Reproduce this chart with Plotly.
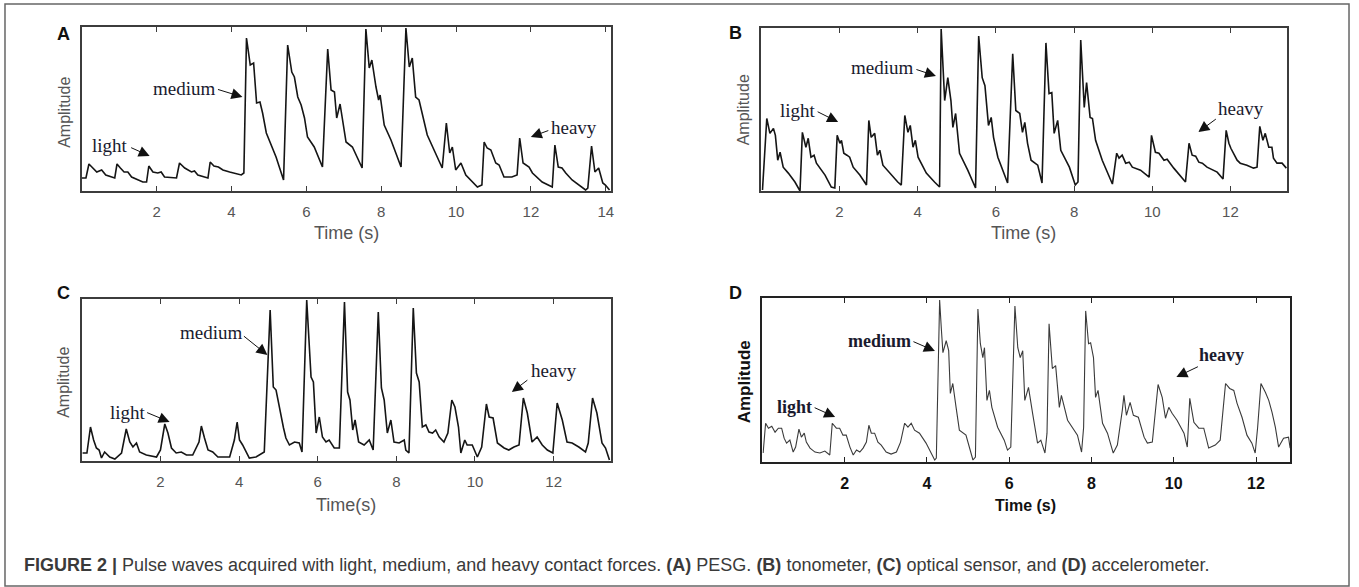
import plotly.graph_objects as go

W, H = 1359, 587

# ---------------- data (time in s, amplitude in arbitrary units) ----------------
tA = [0.00,0.11,0.19,0.32,0.40,0.53,0.64,0.88,0.94,1.03,
      1.13,1.23,1.33,1.63,1.73,1.79,1.90,2.03,2.12,2.21,
      2.53,2.61,2.75,2.93,3.01,3.10,3.37,3.43,3.53,3.65,
      3.77,3.95,4.26,4.33,4.40,4.50,4.59,4.67,4.76,4.83,
      4.93,5.19,5.39,5.50,5.61,5.68,5.77,5.86,5.95,6.03,
      6.21,6.43,6.57,6.66,6.75,6.81,6.90,7.06,7.23,7.49,
      7.59,7.68,7.75,7.86,7.93,7.97,8.08,8.26,8.53,8.66,
      8.75,8.83,8.92,9.01,9.23,9.63,9.74,9.83,9.90,9.99,
      10.13,10.26,10.57,10.69,10.75,10.83,10.93,11.06,11.15,11.28,
      11.49,11.63,11.70,11.79,11.95,12.04,12.30,12.57,12.64,12.73,
      12.83,12.93,13.10,13.46,13.52,13.62,13.71,13.81,13.92,13.99,
      14.10]
aA = [13,13,27,22,19,21,16,13,27,23,
      19,19,14,9,9,25,19,18,19,14,
      13,28,23,19,20,16,13,29,25,24,
      21,19,16,18,153,126,128,88,89,78,
      58,34,11,146,119,114,94,86,73,54,
      44,24,142,101,99,73,87,49,44,23,
      162,123,131,104,91,96,66,51,24,163,
      124,133,94,91,56,23,68,38,44,21,
      28,16,4,6,49,43,41,28,26,14,
      14,16,53,28,24,18,9,4,46,24,
      23,18,11,1,3,45,19,23,8,6,
      1]

tB = [0.03,0.14,0.22,0.31,0.36,0.42,0.48,0.56,0.69,0.86,
      0.99,1.05,1.14,1.20,1.27,1.35,1.41,1.63,1.79,1.88,
      1.94,2.01,2.05,2.11,2.19,2.26,2.35,2.52,2.69,2.75,
      2.81,2.90,2.97,3.03,3.11,3.28,3.49,3.58,3.67,3.75,
      3.81,3.88,3.94,4.01,4.22,4.43,4.56,4.60,4.69,4.77,
      4.85,4.90,4.97,5.07,5.28,5.48,5.56,5.65,5.72,5.81,
      5.88,5.94,6.05,6.30,6.43,6.51,6.61,6.68,6.74,6.81,
      6.90,7.07,7.18,7.28,7.36,7.43,7.49,7.58,7.66,7.88,
      8.03,8.10,8.17,8.26,8.32,8.41,8.47,8.55,8.72,8.98,
      9.09,9.15,9.23,9.32,9.41,9.49,9.70,9.92,9.98,10.08,
      10.17,10.30,10.38,10.55,10.85,10.94,11.02,11.11,11.19,11.28,
      11.40,11.66,11.81,11.89,11.96,12.01,12.08,12.17,12.25,12.42,
      12.59,12.68,12.75,12.83,12.89,12.98,13.06,13.10,13.19,13.32,
      13.43]
aB = [1,73,58,63,56,31,39,24,18,9,
      0,59,44,53,34,36,28,16,4,3,
      56,48,51,38,36,34,24,16,6,71,
      54,58,36,41,26,18,9,6,76,59,
      66,44,51,34,18,9,4,163,91,114,
      91,64,78,38,21,3,156,114,106,66,
      74,54,34,8,138,81,78,59,69,48,
      31,26,8,149,98,99,58,71,41,24,
      6,9,152,84,109,74,73,51,31,7,
      38,33,36,28,29,24,21,14,56,39,
      38,31,32,23,9,48,36,35,29,28,
      24,19,12,61,48,43,38,31,28,26,
      23,24,65,51,58,44,44,33,28,28,
      23]

tC = [0.02,0.13,0.22,0.30,0.37,0.44,0.50,0.58,0.71,0.84,
      1.01,1.13,1.22,1.30,1.39,1.47,1.64,1.90,2.00,2.11,
      2.19,2.28,2.40,2.53,2.66,2.82,2.98,3.04,3.12,3.21,
      3.33,3.46,3.76,3.88,3.95,4.01,4.09,4.18,4.26,4.43,
      4.64,4.79,4.87,4.94,5.03,5.13,5.19,5.28,5.41,5.53,
      5.60,5.72,5.83,5.89,5.96,6.04,6.12,6.21,6.29,6.42,
      6.55,6.68,6.76,6.82,6.89,6.95,7.04,7.18,7.31,7.41,
      7.54,7.62,7.69,7.77,7.86,7.94,8.07,8.20,8.24,8.32,
      8.43,8.51,8.58,8.66,8.75,8.83,8.92,9.00,9.09,9.21,
      9.31,9.41,9.49,9.58,9.64,9.74,9.80,9.93,10.06,10.17,
      10.29,10.36,10.46,10.57,10.74,10.86,10.99,11.12,11.23,11.33,
      11.45,11.58,11.71,11.84,11.98,12.09,12.22,12.34,12.47,12.64,
      12.81,12.88,12.99,13.10,13.23,13.32,13.42]
aC = [8,8,34,21,13,11,3,9,4,2,
      8,32,19,14,18,9,6,4,11,37,
      28,13,8,9,6,6,19,35,23,11,
      9,4,4,21,39,21,16,9,3,4,
      9,151,74,71,51,33,23,16,19,18,
      9,161,84,79,28,44,24,19,21,13,
      13,159,69,61,31,41,19,16,21,11,
      149,73,61,28,41,19,18,21,11,8,
      153,88,79,34,36,29,28,31,24,19,
      28,61,54,34,8,21,16,16,4,14,
      57,44,43,18,13,11,14,16,63,48,
      19,24,16,11,8,58,41,19,18,14,
      9,18,63,48,18,13,1]

tD = [0.02,0.08,0.15,0.23,0.31,0.39,0.47,0.53,0.59,0.67,
      0.75,0.81,0.89,0.95,1.02,1.07,1.16,1.28,1.40,1.52,
      1.64,1.70,1.80,1.88,1.96,2.04,2.13,2.21,2.29,2.37,
      2.45,2.53,2.59,2.65,2.73,2.81,2.89,3.01,3.13,3.26,
      3.36,3.46,3.54,3.62,3.70,3.82,3.98,4.10,4.19,4.23,
      4.31,4.35,4.39,4.47,4.53,4.57,4.63,4.71,4.79,4.95,
      5.12,5.18,5.24,5.30,5.36,5.40,5.46,5.52,5.58,5.72,
      5.88,5.96,6.04,6.14,6.21,6.27,6.33,6.38,6.47,6.57,
      6.69,6.77,6.87,6.92,6.97,7.05,7.13,7.22,7.27,7.42,
      7.66,7.76,7.81,7.86,7.93,7.98,8.05,8.10,8.16,8.27,
      8.39,8.53,8.63,8.75,8.79,8.85,8.94,9.02,9.14,9.28,
      9.36,9.48,9.56,9.62,9.72,9.80,9.88,9.96,10.08,10.25,
      10.33,10.39,10.49,10.61,10.73,10.85,11.01,11.13,11.26,11.36,
      11.46,11.54,11.66,11.78,11.90,11.98,12.04,12.12,12.23,12.31,
      12.39,12.47,12.55,12.67,12.79,12.83]
aD = [9,39,34,36,30,34,34,24,19,22,
      10,15,33,25,29,20,14,10,9,11,
      7,39,34,34,27,27,15,7,12,10,
      14,20,37,29,29,20,17,10,8,10,
      20,39,35,39,32,29,19,10,2,4,
      163,135,110,122,112,69,79,55,32,27,
      2,5,154,119,105,115,62,72,55,35,
      22,12,15,157,115,105,112,62,75,49,
      19,22,9,29,139,94,97,55,67,42,
      27,10,35,152,119,120,105,65,72,39,
      29,9,17,52,67,47,60,47,45,25,
      19,20,52,78,65,44,55,49,42,29,
      15,64,40,34,34,14,17,22,79,74,
      72,59,45,27,19,9,35,79,70,62,
      50,35,15,24,25,14]

ticks_A = [2, 4, 6, 8, 10, 12, 14]
ticks_BCD = [2, 4, 6, 8, 10, 12]
force_labels = ["light", "medium", "heavy"]
caption = ("<b>FIGURE 2 |</b> Pulse waves acquired with light, medium, and heavy contact forces. "
           "<b>(A)</b> PESG. <b>(B)</b> tonometer, <b>(C)</b> optical sensor, and <b>(D)</b> accelerometer.")

# ---------------- helpers ----------------
def px(x):
    return x / W

def py(y):
    return 1 - y / H

SANS = "Liberation Sans, Arial, sans-serif"
SERIF = "Liberation Serif, Times New Roman, serif"

fig = go.Figure()

panels = [
    ("A", tA, aA, (82, 27, 612, 191), [0, 14.13], [0, 164], ticks_A, "plain"),
    ("B", tB, aB, (763, 28, 1290, 191), [0, 13.45], [0, 164], ticks_BCD, "plain"),
    ("C", tC, aC, (82, 299, 612, 461), [0, 13.45], [0, 162], ticks_BCD, "plain"),
    ("D", tD, aD, (764, 298, 1293, 462), [0, 12.83], [0, 165], ticks_BCD, "bold"),
]

layout_axes = {}
for i, (name, t, a, fr, xr, yr, tv, style) in enumerate(panels):
    n = i + 1
    xa = "x" if n == 1 else f"x{n}"
    ya = "y" if n == 1 else f"y{n}"
    bold = style == "bold"
    fig.add_trace(go.Scatter(
        x=t, y=a, mode="lines", xaxis=xa, yaxis=ya,
        line=dict(color="#3a3a3a" if bold else "#151515", width=1.1 if bold else 1.6),
        hoverinfo="skip"))
    l, tp, r, b = fr
    axcol = "#222" if bold else "#3c3c3c"
    layout_axes["xaxis" if n == 1 else f"xaxis{n}"] = dict(
        domain=[px(l), px(r)], range=xr, anchor=ya,
        showline=True, mirror="ticks", linecolor=axcol, linewidth=1.5,
        ticks="inside", ticklen=5, tickwidth=1.2, tickcolor=axcol,
        tickvals=tv, ticktext=[str(v) for v in tv],
        ticklabelstandoff=6,
        tickfont=dict(family=SANS, size=16 if bold else 15,
                      color="#111" if bold else "#555",
                      weight="bold" if bold else "normal"),
        showgrid=False, zeroline=False, fixedrange=True)
    layout_axes["yaxis" if n == 1 else f"yaxis{n}"] = dict(
        domain=[py(b), py(tp)], range=yr, anchor=xa,
        showline=True, mirror=True, linecolor=axcol, linewidth=1.5,
        showticklabels=False, ticks="", showgrid=False, zeroline=False,
        fixedrange=True)

fig.update_layout(**layout_axes)

ann = []

def text(x, y, s, size, color="#222", family=SANS, angle=0, xanchor="center", weight="normal"):
    ann.append(dict(x=px(x), y=py(y), xref="paper", yref="paper", text=s,
                    showarrow=False, xanchor=xanchor, yanchor="middle",
                    textangle=angle,
                    font=dict(family=family, size=size, color=color, weight=weight)))

def arrow(tx, ty, hx, hy, color="#111"):
    ann.append(dict(x=px(hx), y=py(hy), xref="paper", yref="paper", text="",
                    showarrow=True, ax=tx - hx, ay=ty - hy,
                    arrowhead=2, arrowsize=2.2, arrowwidth=1.0, arrowcolor=color))

# panel letters
for s, x, y in [("A", 64, 34), ("B", 737, 33), ("C", 64, 293), ("D", 737, 293)]:
    text(x, y, "<b>%s</b>" % s, 18, color="#111")

# axis titles
text(347, 233, "Time (s)", 18, color="#555")
text(1026, 233, "Time (s)", 18, color="#555")
text(347, 505, "Time(s)", 18, color="#555")
text(1028, 505, "<b>Time (s)</b>", 16, color="#111")
text(64, 112, "Amplitude", 16, color="#555", angle=-90)
text(745, 110, "Amplitude", 16, color="#555", angle=-90)
text(64, 382, "Amplitude", 16, color="#555", angle=-90)
text(747, 382, "<b>Amplitude</b>", 17, color="#111", angle=-90)

# force annotations: (label centre x, y, arrow tail x, y, arrow head x, y)
notes = {
    "A": [(110, 146, 130, 147, 150, 156), (184, 88, 217, 89, 243, 97), (575, 128, 551, 130, 532, 137)],
    "B": [(800, 110, 818, 111, 840, 122), (884, 68, 917, 69, 938, 76), (1244, 108, 1220, 118, 1201, 132)],
    "C": [(128, 412, 146, 412, 170, 422), (211, 332, 243, 335, 268, 355), (555, 370, 530, 379, 513, 392)],
    "D": [(796, 407, 815, 407, 837, 417), (881, 341, 914, 341, 937, 351), (1224, 355, 1202, 366, 1179, 377)],
}
for name, lst in notes.items():
    bold = name == "D"
    for lab, (cx, cy, tx, ty, hx, hy) in zip(force_labels, lst):
        s = "<b>%s</b>" % lab if bold else lab
        text(cx, cy, s, 18 if bold else 19, color="#1a1a2e", family=SERIF)
        arrow(tx, ty, hx, hy)

# caption
text(22, 565, caption, 18, color="#3a3a3a", xanchor="left")

fig.update_layout(
    annotations=ann,
    width=W, height=H,
    margin=dict(l=0, r=0, t=0, b=0),
    paper_bgcolor="white", plot_bgcolor="white",
    showlegend=False,
    shapes=[dict(type="rect", xref="paper", yref="paper",
                 x0=px(5), y0=py(586), x1=px(1352), y1=py(4),
                 line=dict(color="#666", width=1.5))],
)

fig.write_html("out.html",
               config={"displayModeBar": False},
               post_script="document.body.style.margin='0px';document.body.style.overflow='hidden';")
